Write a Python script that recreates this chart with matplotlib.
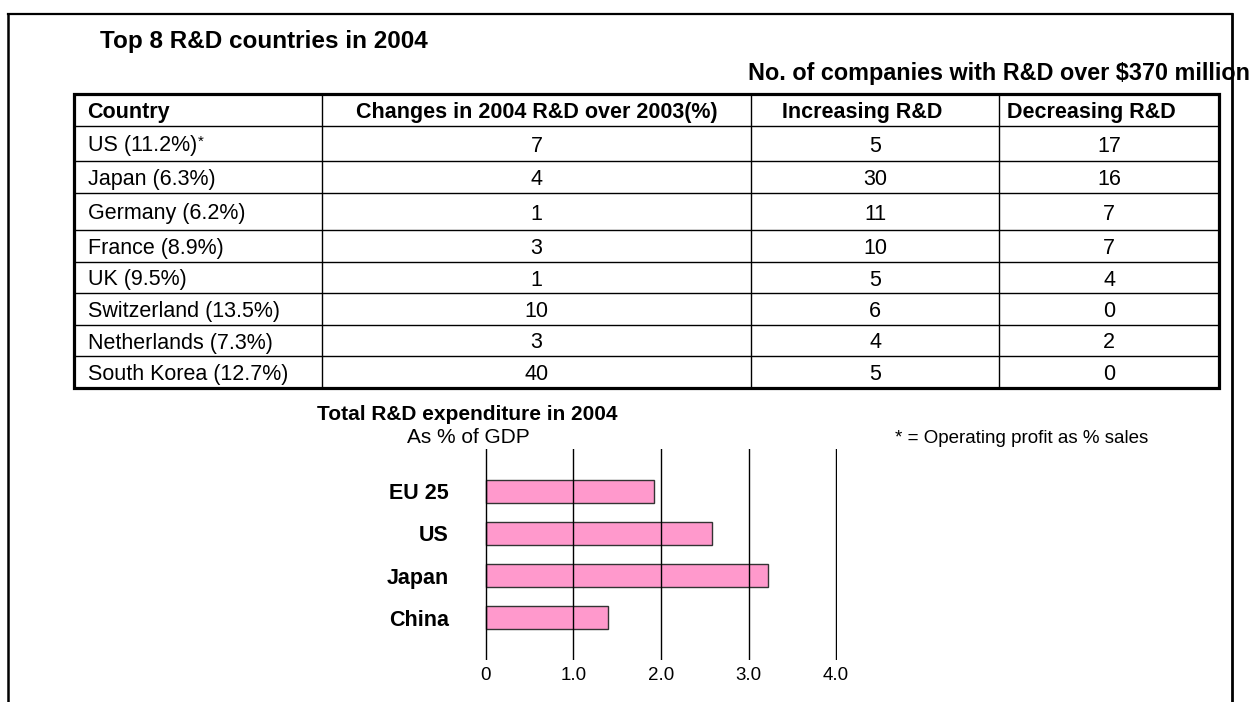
import matplotlib
matplotlib.use("Agg")
import matplotlib.pyplot as plt
from matplotlib.patches import Rectangle

plt.rcParams['font.family'] = ['Liberation Sans', 'DejaVu Sans']

# table data: companies with R&D over $370 million
countries = ['US (11.2%)', 'Japan (6.3%)', 'Germany (6.2%)', 'France (8.9%)',
             'UK (9.5%)', 'Switzerland (13.5%)', 'Netherlands (7.3%)',
             'South Korea (12.7%)']
change_2004 = [7, 4, 1, 3, 1, 10, 3, 40]
increasing = [5, 30, 11, 10, 5, 6, 4, 5]
decreasing = [17, 16, 7, 7, 4, 0, 2, 0]
headers = ['Country', 'Changes in 2004 R&D over 2003(%)', 'Increasing R&D', 'Decreasing R&D']

# bar chart data: total R&D spend as % of GDP
regions = ['EU 25', 'US', 'Japan', 'China']
gdp_share = [1.92, 2.58, 3.22, 1.40]
gdp_ticks = [0, 1, 2, 3, 4]
gdp_ticklabels = ['0', '1.0', '2.0', '3.0', '4.0']

W, H = 1252, 702
fig = plt.figure(figsize=(W / 100, H / 100), dpi=100)

# overlay in pixel units for the frame, the table and the captions
ov = fig.add_axes([0, 0, 1, 1])
ov.set_xlim(0, W)
ov.set_ylim(H, 0)
ov.axis('off')

# outer frame (bottom edge runs off the page)
ov.plot([8, 8], [H + 10, 14], color='black', lw=1.8)
ov.plot([8, 1232], [14, 14], color='black', lw=1.6)
ov.plot([1232, 1232], [14, H + 10], color='black', lw=2.0, zorder=5)

ov.text(100, 48, 'Top 8 R&D countries in 2004', fontsize=17.5, fontweight='bold',
        va='baseline', ha='left')
ov.text(748, 80, 'No. of companies with R&D over $370 million', fontsize=16.8,
        fontweight='bold', va='baseline', ha='left')

# table grid (row heights are not all equal)
col_edges = [73.5, 322, 751, 999, 1219]
row_edges = [94, 126, 161, 193, 230, 262, 293, 325, 356, 387.5]
tbl_top, tbl_bottom = row_edges[0], row_edges[-1]

ov.hlines(row_edges[1:-1], col_edges[0], col_edges[-1], color='black', lw=1.0)
ov.vlines(col_edges[1:-1], tbl_top, tbl_bottom, color='black', lw=1.0)
ov.add_patch(Rectangle((col_edges[0], tbl_top), col_edges[-1] - col_edges[0],
                       tbl_bottom - tbl_top, fill=False, edgecolor='black', lw=2.3))

fs = 15.5
base_off = 8
hdr_y = (row_edges[0] + row_edges[1]) / 2 + base_off
ov.text(col_edges[0] + 14, hdr_y, headers[0], fontsize=fs, fontweight='bold', va='baseline')
ov.text((col_edges[1] + col_edges[2]) / 2, hdr_y, headers[1], fontsize=fs,
        fontweight='bold', va='baseline', ha='center')
ov.text(col_edges[2] + 31, hdr_y, headers[2], fontsize=fs, fontweight='bold', va='baseline')
ov.text(col_edges[3] + 8, hdr_y, headers[3], fontsize=fs, fontweight='bold', va='baseline')

centers = [(col_edges[i] + col_edges[i + 1]) / 2 for i in range(1, 4)]
for i, name in enumerate(countries):
    y = (row_edges[i + 1] + row_edges[i + 2]) / 2 + base_off
    t = ov.text(col_edges[0] + 14, y, name, fontsize=fs, va='baseline')
    if i == 0:
        # footnote marker right after the first country label
        fig.canvas.draw()
        bb = t.get_window_extent(fig.canvas.get_renderer())
        x_end, y_top = ov.transData.inverted().transform((bb.x1, bb.y1))
        ov.text(x_end + 1, y_top - 1, '*', fontsize=11, va='top', ha='left')
    for cx, vals in zip(centers, [change_2004, increasing, decreasing]):
        ov.text(cx, y, str(vals[i]), fontsize=fs, va='baseline', ha='center')

# bar chart captions
ov.text(317, 420, 'Total R&D expenditure in 2004', fontsize=15, fontweight='bold',
        va='baseline')
ov.text(407, 443, 'As % of GDP', fontsize=15, va='baseline')
ov.text(895, 443, '* = Operating profit as % sales', fontsize=13.5, va='baseline')

# bar chart
ax = fig.add_axes([485 / W, 1 - 660 / H, 352 / W, 211 / H])
ax.barh(range(len(regions)), gdp_share, height=0.55, color='#FF99CC',
        edgecolor='#333333', lw=1.0, zorder=2)
ax.set_xlim(-0.01, 4.01)
ax.set_ylim(4, -1)
ax.set_xticks(gdp_ticks)
ax.set_xticklabels(gdp_ticklabels, fontsize=13.5)
ax.set_yticks(range(len(regions)))
ax.set_yticklabels(regions, fontsize=15.5, fontweight='bold')
ax.tick_params(length=0)
ax.tick_params(axis='x', pad=5)
ax.tick_params(axis='y', pad=26)
ax.grid(axis='x', color='black', lw=1.0)
ax.set_axisbelow(False)
for s in ax.spines.values():
    s.set_visible(False)
ax.patch.set_alpha(0)

fig.savefig('out.png', dpi=100)
